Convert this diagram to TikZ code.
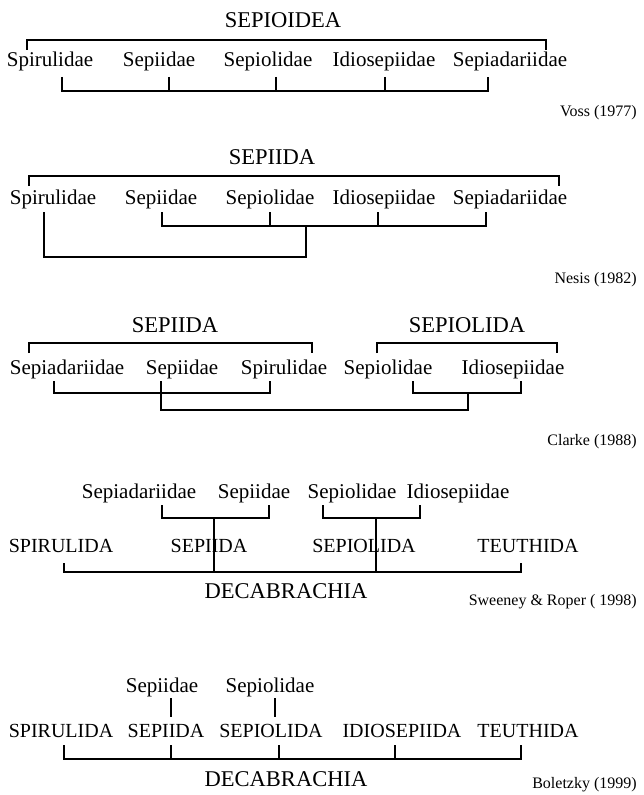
\documentclass[tikz,border=0pt]{standalone}
\usepackage{fontspec}
\setmainfont{Liberation Serif}
\begin{document}
\begin{tikzpicture}[x=0.75pt,y=-0.75pt,
  fam/.style={font=\fontsize{15.75}{18}\selectfont, anchor=base, inner sep=0pt},
  grp/.style={font=\fontsize{16.9}{20}\selectfont, anchor=base, inner sep=0pt},
  ord/.style={font=\fontsize{15}{18}\selectfont, anchor=base, inner sep=0pt},
  cite/.style={font=\fontsize{12}{14}\selectfont, anchor=base east, inner sep=0pt},
  link/.style={line width=0.8pt, line cap=butt, line join=miter}]
\useasboundingbox (0,0) rectangle (643,795);

% ---------- Voss (1977) ----------
\node[grp] (a0) at (283,28) {SEPIOIDEA};
\node[fam] (a1) at (50,67) {Spirulidae};
\node[fam] (a2) at (159,67) {Sepiidae};
\node[fam] (a3) at (268,67) {Sepiolidae};
\node[fam] (a4) at (384,67) {Idiosepiidae};
\node[fam] (a5) at (510,67) {Sepiadariidae};
\node[cite] (ac) at (637,117) {Voss (1977)};
\coordinate (aL) at (27,50);  \coordinate (aR) at (546,50);
\draw[link] (aL) -- ++(0,-10) -| (aR);
\coordinate (at1) at (62,77);  \coordinate (at2) at (169,77);
\coordinate (at3) at (276,77); \coordinate (at4) at (385,77);
\coordinate (at5) at (488,77);
\draw[link] (at1) -- ++(0,14) -| (at5);
\foreach \t in {at2,at3,at4} \draw[link] (\t) -- ++(0,14);

% ---------- Nesis (1982) ----------
\node[grp] (b0) at (272,165) {SEPIIDA};
\node[fam] (b1) at (53,204) {Spirulidae};
\node[fam] (b2) at (161,204) {Sepiidae};
\node[fam] (b3) at (270,204) {Sepiolidae};
\node[fam] (b4) at (384,204) {Idiosepiidae};
\node[fam] (b5) at (510,204) {Sepiadariidae};
\node[cite] (bc) at (637,283) {Nesis (1982)};
\coordinate (bL) at (29,186);  \coordinate (bR) at (559,186);
\draw[link] (bL) -- ++(0,-10) -| (bR);
\coordinate (bt1) at (44,212);  \coordinate (bt2) at (162,212);
\coordinate (bt3) at (270,212); \coordinate (bt4) at (378,212);
\coordinate (bt5) at (486,212);
\coordinate (bm) at (306,226);
\draw[link] (bt2) -- ++(0,14) -| (bt5);
\foreach \t in {bt3,bt4} \draw[link] (\t) -- ++(0,14);
\draw[link] (bt1) |- ([yshift=-31*0.75pt]bm) -- (bm);

% ---------- Clarke (1988) ----------
\node[grp] (c0) at (175,332) {SEPIIDA};
\node[grp] (c0b) at (467,332) {SEPIOLIDA};
\node[fam] (c1) at (67,374) {Sepiadariidae};
\node[fam] (c2) at (182,374) {Sepiidae};
\node[fam] (c3) at (284,374) {Spirulidae};
\node[fam] (c4) at (388,374) {Sepiolidae};
\node[fam] (c5) at (513,374) {Idiosepiidae};
\node[cite] (cc) at (637,445) {Clarke (1988)};
\coordinate (cL) at (29,353);  \coordinate (cR) at (312,353);
\draw[link] (cL) -- ++(0,-10) -| (cR);
\coordinate (cL2) at (377,353);  \coordinate (cR2) at (557,353);
\draw[link] (cL2) -- ++(0,-10) -| (cR2);
\coordinate (ct1) at (54,381);  \coordinate (ct2) at (161,381);
\coordinate (ct3) at (270,381); \coordinate (ct4) at (413,381);
\coordinate (ct5) at (521,381);
\coordinate (cm) at (468,393);
\draw[link] (ct1) -- ++(0,12) -| (ct3);
\draw[link] (ct4) -- ++(0,12) -| (ct5);
\draw[link] (ct2) |- ([yshift=-17*0.75pt]cm) -- (cm);

% ---------- Sweeney & Roper (1998) ----------
\node[fam] (d1) at (139,498) {Sepiadariidae};
\node[fam] (d2) at (254,498) {Sepiidae};
\node[fam] (d3) at (352,498) {Sepiolidae};
\node[fam] (d4) at (458,498) {Idiosepiidae};
\node[ord] (e1) at (61,552) {SPIRULIDA};
\node[ord] (e2) at (209,552) {SEPIIDA};
\node[ord] (e3) at (364,552) {SEPIOLIDA};
\node[ord] (e4) at (528,552) {TEUTHIDA};
\node[grp] (d0) at (286,598) {DECABRACHIA};
\node[cite] (dc) at (637,605) {Sweeney \& Roper ( 1998)};
\coordinate (dt1) at (162,505); \coordinate (dt2) at (269,505);
\coordinate (dt3) at (323,505); \coordinate (dt4) at (420,505);
\draw[link] (dt1) -- ++(0,13) -| (dt2);
\draw[link] (dt3) -- ++(0,13) -| (dt4);
\coordinate (dm1) at (214,518); \coordinate (dm2) at (376,518);
\coordinate (db1) at (64,563);  \coordinate (db4) at (521,563);
\coordinate (dh1) at (214,572); \coordinate (dh2) at (376,572);
\draw[link] (db1) -- ++(0,9) -| (db4);
\draw[link] (dm1) -- (dh1);
\draw[link] (dm2) -- (dh2);

% ---------- Boletzky (1999) ----------
\node[fam] (f1) at (162,692) {Sepiidae};
\node[fam] (f2) at (270,692) {Sepiolidae};
\node[ord] (g1) at (61,737) {SPIRULIDA};
\node[ord] (g2) at (166,737) {SEPIIDA};
\node[ord] (g3) at (271,737) {SEPIOLIDA};
\node[ord] (g4) at (402,737) {IDIOSEPIIDA};
\node[ord] (g5) at (528,737) {TEUTHIDA};
\node[grp] (f0) at (286,786) {DECABRACHIA};
\node[cite] (fc) at (637,788) {Boletzky (1999)};
\coordinate (fu1) at (171,698); \coordinate (fu2) at (275,698);
\draw[link] (fu1) -- ++(0,19);
\draw[link] (fu2) -- ++(0,19);
\coordinate (ft1) at (64,745);  \coordinate (ft2) at (171,745);
\coordinate (ft3) at (279,745); \coordinate (ft4) at (395,745);
\coordinate (ft5) at (521,745);
\draw[link] (ft1) -- ++(0,14) -| (ft5);
\foreach \t in {ft2,ft3,ft4} \draw[link] (\t) -- ++(0,14);
\end{tikzpicture}
\end{document}
